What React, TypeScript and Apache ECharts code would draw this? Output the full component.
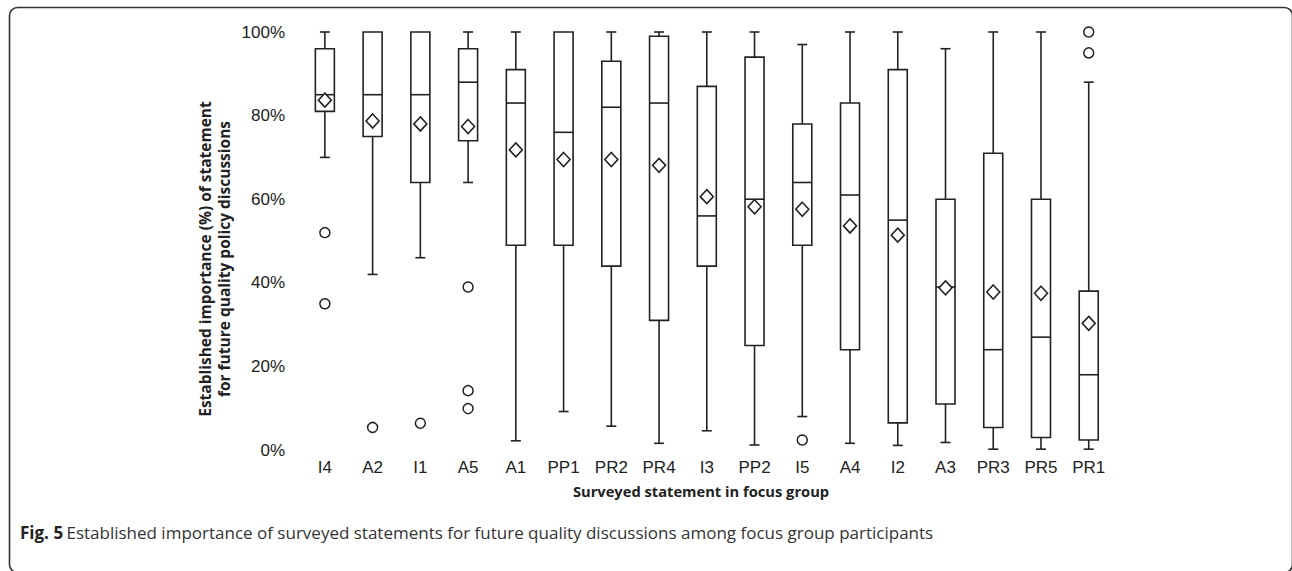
import React, { useEffect, useRef } from "react";
import * as echarts from "echarts";

const categories = ["I4", "A2", "I1", "A5", "A1", "PP1", "PR2", "PR4", "I3", "PP2", "I5", "A4", "I2", "A3", "PR3", "PR5", "PR1"];
const whiskerLow = [70, 42, 46, 64, 2.2, 9.2, 5.7, 1.6, 4.6, 1.2, 8, 1.6, 1.1, 1.8, 0.2, 0.2, 0.2];
const q1 = [81, 75, 64, 74, 49, 49, 44, 31, 44, 25, 49, 24, 6.5, 11, 5.4, 3, 2.4];
const median = [85, 85, 85, 88, 83, 76, 82, 83, 56, 60, 64, 61, 55, 39, 24, 27, 18];
const q3 = [96, 100, 100, 96, 91, 100, 93, 99, 87, 94, 78, 83, 91, 60, 71, 60, 38];
const whiskerHigh = [100, 100, 100, 100, 100, 100, 100, 100, 100, 100, 97, 100, 100, 96, 100, 100, 88];
const mean = [83.7, 78.7, 78, 77.4, 71.8, 69.5, 69.5, 68.1, 60.6, 58.2, 57.6, 53.6, 51.4, 38.8, 37.8, 37.5, 30.3];
const outlierCat = ["I4", "I4", "A2", "I1", "A5", "A5", "A5", "I5", "PR1", "PR1"];
const outlierVal = [52, 35, 5.4, 6.4, 39, 14.2, 9.9, 2.4, 100, 95];
const yTicks = [0, 20, 40, 60, 80, 100];

const yTitle = "Established importance (%) of statement\nfor future quality policy discussions";
const xTitle = "Surveyed statement in focus group";
const captionBold = "Fig. 5";
const captionText = "Established importance of surveyed statements for future quality discussions among focus group participants";

const INK = "#222";

export default function App() {
  const ref = useRef<HTMLDivElement>(null);
  useEffect(() => {
    if (!ref.current) return;
    const chart = echarts.init(ref.current, null, { renderer: "svg" });
    const boxData = categories.map((c, i) => [i, whiskerLow[i], q1[i], median[i], q3[i], whiskerHigh[i]]);
    const option: any = {
      animation: false,
      backgroundColor: "#fff",
      grid: { left: 301, right: 179.4, top: 32, bottom: 121, containLabel: false },
      xAxis: {
        type: "category",
        data: categories,
        boundaryGap: true,
        axisLine: { show: false },
        axisTick: { show: false },
        axisLabel: { fontFamily: "Liberation Sans, Arial", fontSize: 17, color: INK, margin: 9 },
        splitLine: { show: false },
      },
      yAxis: {
        type: "value",
        min: 0,
        max: 100,
        interval: 20,
        axisLine: { show: false },
        axisTick: { show: false },
        splitLine: { show: false },
        axisLabel: {
          fontFamily: "Liberation Sans, Arial",
          fontSize: 17,
          color: INK,
          margin: 16,
          formatter: (v: number) => (yTicks.includes(v) ? v + "%" : ""),
        },
      },
      series: [
        {
          type: "custom",
          data: boxData,
          encode: { x: 0, y: [1, 2, 3, 4, 5] },
          z: 2,
          renderItem: (params: any, api: any) => {
            const idx = api.value(0);
            const pLow = api.coord([idx, api.value(1)]);
            const pQ1 = api.coord([idx, api.value(2)]);
            const pMed = api.coord([idx, api.value(3)]);
            const pQ3 = api.coord([idx, api.value(4)]);
            const pHigh = api.coord([idx, api.value(5)]);
            const cx = pMed[0];
            const bw = 19;
            const cw = 10;
            const st = { stroke: INK, lineWidth: 1.6, fill: "none" };
            const children: any[] = [];
            if (pHigh[1] < pQ3[1] - 0.5) {
              children.push({ type: "line", shape: { x1: cx, y1: pQ3[1], x2: cx, y2: pHigh[1] }, style: st });
              children.push({ type: "line", shape: { x1: cx - cw / 2, y1: pHigh[1], x2: cx + cw / 2, y2: pHigh[1] }, style: st });
            }
            if (pLow[1] > pQ1[1] + 0.5) {
              children.push({ type: "line", shape: { x1: cx, y1: pQ1[1], x2: cx, y2: pLow[1] }, style: st });
              children.push({ type: "line", shape: { x1: cx - cw / 2, y1: pLow[1], x2: cx + cw / 2, y2: pLow[1] }, style: st });
            }
            children.push({
              type: "rect",
              shape: { x: cx - bw / 2, y: pQ3[1], width: bw, height: pQ1[1] - pQ3[1] },
              style: { stroke: INK, lineWidth: 1.6, fill: "#fff" },
            });
            children.push({ type: "line", shape: { x1: cx - bw / 2, y1: pMed[1], x2: cx + bw / 2, y2: pMed[1] }, style: st });
            return { type: "group", children };
          },
        },
        {
          type: "scatter",
          data: mean.map((v, i) => [i, v]),
          symbol: "diamond",
          symbolSize: [13, 14],
          z: 3,
          itemStyle: { color: "#fff", borderColor: INK, borderWidth: 1.6, opacity: 1 },
        },
        {
          type: "scatter",
          data: outlierCat.map((c, i) => [categories.indexOf(c), outlierVal[i]]),
          symbol: "circle",
          symbolSize: 10,
          z: 3,
          itemStyle: { color: "#fff", borderColor: INK, borderWidth: 1.5, opacity: 1 },
        },
      ],
      graphic: [
        {
          type: "rect",
          shape: { x: 9.5, y: 7.5, width: 1283, height: 565, r: 8 },
          style: { fill: "none", stroke: "#333", lineWidth: 1.6 },
          silent: true,
        },
        {
          type: "text",
          x: 214,
          y: 259,
          rotation: Math.PI / 2,
          style: {
            text: yTitle,
            fontFamily: "Open Sans",
            fontWeight: "bold",
            fontSize: 15.5,
            lineHeight: 19,
            fill: INK,
            textAlign: "center",
            textVerticalAlign: "middle",
          },
        },
        {
          type: "text",
          x: 701,
          y: 491,
          style: {
            text: xTitle,
            fontFamily: "Open Sans",
            fontWeight: "bold",
            fontSize: 14.7,
            fill: INK,
            textAlign: "center",
            textVerticalAlign: "middle",
          },
        },
        {
          type: "text",
          x: 20,
          y: 532,
          style: {
            text: "{b|" + captionBold + "} {n|" + captionText + "}",
            textVerticalAlign: "middle",
            rich: {
              b: { fontFamily: "Open Sans", fontWeight: "bold", fontSize: 17, fill: "#222" },
              n: { fontFamily: "Open Sans", fontSize: 17, fill: "#333" },
            },
          },
        },
      ],
    };
    chart.setOption(option);
    return () => chart.dispose();
  }, []);
  return <div ref={ref} style={{ position: "absolute", left: 0, top: 0, width: 1292, height: 571 }} />;
}
